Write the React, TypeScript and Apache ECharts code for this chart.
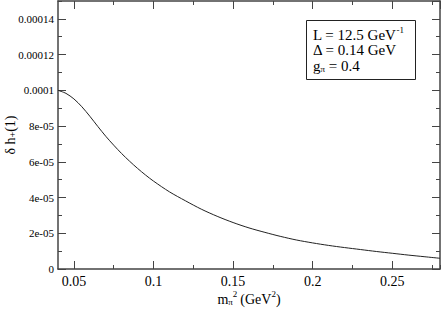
import React, { useEffect, useRef } from "react";
import * as echarts from "echarts";

const xValues = [0.04, 0.045, 0.05, 0.055, 0.06, 0.065, 0.07, 0.075, 0.08, 0.085, 0.09, 0.095, 0.1, 0.11, 0.12, 0.13, 0.14, 0.15, 0.16, 0.17, 0.18, 0.19, 0.2, 0.21, 0.22, 0.23, 0.24, 0.25, 0.26, 0.27, 0.28];
const yValues = [1.0e-4, 9.83e-5, 9.52e-5, 9.08e-5, 8.55e-5, 7.98e-5, 7.43e-5, 6.93e-5, 6.46e-5, 6.03e-5, 5.63e-5, 5.26e-5, 4.92e-5, 4.32e-5, 3.82e-5, 3.35e-5, 2.95e-5, 2.6e-5, 2.3e-5, 2.05e-5, 1.82e-5, 1.62e-5, 1.46e-5, 1.32e-5, 1.2e-5, 1.09e-5, 9.8e-6, 8.8e-6, 7.8e-6, 6.9e-6, 6.0e-6];
const yLabels = ["0", "2e-05", "4e-05", "6e-05", "8e-05", "0.0001", "0.00012", "0.00014"];
const xLabels = ["0.05", "0.1", "0.15", "0.2", "0.25"];
const legendLines = [
  "{t|L = 12.5 GeV}{sup|-1}",
  "{t|Δ = 0.14 GeV}",
  "{t|g}{sub|π}{t| = 0.4}",
];

const X_MIN = 0.04, X_MAX = 0.28, X_STEP = 0.05, X_MINOR0 = 0.075;
const Y_MIN = 0, Y_MAX = 0.00015, Y_STEP = 0.00002, Y_MINOR0 = 0.00001;

const FONT = "Liberation Serif";
const AX = "#444";
const W = 442, H = 310;
const L = 58, R = 2, T = 1, B = 41;

export default function App() {
  const ref = useRef<HTMLDivElement>(null);
  useEffect(() => {
    const chart = echarts.init(ref.current!, null, { renderer: "svg" });
    const pw = W - L - R;
    const ph = H - T - B;
    const pxX = pw / (X_MAX - X_MIN);
    const pxY = ph / (Y_MAX - Y_MIN);

    const gridBase = { right: R, top: T, containLabel: false, outerBoundsMode: "none" };
    const grids = [
      { ...gridBase, left: L, bottom: B },
      { ...gridBase, left: L + (X_STEP * 1 - X_MIN) * pxX, bottom: B },
      { ...gridBase, left: L + (X_MINOR0 - X_MIN) * pxX, bottom: B },
      { ...gridBase, left: L, bottom: B + (Y_MINOR0 - Y_MIN) * pxY },
    ];

    const hiddenX = (g: number) => ({ type: "value", gridIndex: g, show: false, min: X_MIN, max: X_MAX });
    const hiddenY = (g: number) => ({ type: "value", gridIndex: g, show: false, min: 0, max: 1 });

    const lineStyle = { color: AX, width: 1.5 };
    const tickStyle = { color: AX, width: 1 };

    const xTickAxis = (g: number, pos: string, min: number, len: number, labels: boolean) => ({
      type: "value",
      gridIndex: g,
      position: pos,
      min,
      max: X_MAX,
      interval: X_STEP,
      axisLine: { show: false },
      axisTick: { show: true, inside: true, length: len, lineStyle: tickStyle },
      minorTick: { show: false },
      splitLine: { show: false },
      axisLabel: labels
        ? {
            show: true,
            showMaxLabel: false,
            formatter: (v: number) => {
              const i = Math.round(v / X_STEP) - 1;
              return i >= 0 && i < xLabels.length && Math.abs(v - (i + 1) * X_STEP) < 1e-9 ? xLabels[i] : "";
            },
            fontFamily: FONT,
            fontSize: 14,
            color: "#000",
            margin: 5,
          }
        : { show: false },
    });

    const yTickAxis = (g: number, pos: string, min: number, len: number, labels: boolean, line: boolean) => ({
      type: "value",
      gridIndex: g,
      position: pos,
      min,
      max: Y_MAX,
      interval: Y_STEP,
      axisLine: { show: line, onZero: false, lineStyle },
      axisTick: { show: true, inside: true, length: len, lineStyle: tickStyle },
      minorTick: { show: false },
      splitLine: { show: false },
      axisLabel: labels
        ? {
            show: true,
            showMaxLabel: false,
            formatter: (v: number) => {
              const i = Math.round(v / Y_STEP);
              return i < yLabels.length && Math.abs(v - i * Y_STEP) < 1e-12 ? yLabels[i] : "";
            },
            fontFamily: FONT,
            fontSize: 11,
            color: "#000",
            margin: 4,
          }
        : { show: false },
    });

    const xAxes: any[] = [
      {
        type: "value",
        gridIndex: 0,
        position: "bottom",
        min: X_MIN,
        max: X_MAX,
        axisLine: { show: true, onZero: false, lineStyle },
        axisTick: { show: false },
        axisLabel: { show: false },
        splitLine: { show: false },
        name: "{m|m}{sub|π}{sup|2} {m|(GeV}{sup|2}{m|)}",
        nameLocation: "middle",
        nameGap: 20,
        nameMoveOverlap: false,
        nameTextStyle: {
          fontFamily: FONT,
          color: "#000",
          rich: {
            m: { fontFamily: FONT, fontSize: 14, color: "#000", verticalAlign: "bottom" },
            sub: { fontFamily: FONT, fontSize: 9, color: "#000", padding: [6, 0, 0, 0], verticalAlign: "bottom" },
            sup: { fontFamily: FONT, fontSize: 9, color: "#000", padding: [0, 0, 8, 0], verticalAlign: "bottom" },
          },
        },
      },
      {
        type: "value",
        gridIndex: 0,
        position: "top",
        min: X_MIN,
        max: X_MAX,
        axisLine: { show: true, onZero: false, lineStyle },
        axisTick: { show: false },
        axisLabel: { show: false },
        splitLine: { show: false },
      },
      xTickAxis(1, "bottom", X_STEP, 8, true),
      xTickAxis(1, "top", X_STEP, 8, false),
      xTickAxis(2, "bottom", X_MINOR0, 4, false),
      xTickAxis(2, "top", X_MINOR0, 4, false),
      hiddenX(3),
    ];

    const yAxes: any[] = [
      {
        ...yTickAxis(0, "left", Y_MIN, 8, true, true),
        name: "{m|δ h}{sub|+}{m|(1)}",
        nameLocation: "middle",
        nameRotate: 90,
        nameGap: 41,
        nameMoveOverlap: false,
        nameTextStyle: {
          fontFamily: FONT,
          color: "#000",
          rich: {
            m: { fontFamily: FONT, fontSize: 14, color: "#000", verticalAlign: "bottom" },
            sub: { fontFamily: FONT, fontSize: 10, color: "#000", padding: [6, 0, 0, 0], verticalAlign: "bottom" },
          },
        },
      },
      yTickAxis(0, "right", Y_MIN, 8, false, true),
      hiddenY(1),
      hiddenY(2),
      yTickAxis(3, "left", Y_MINOR0, 4, false, false),
      yTickAxis(3, "right", Y_MINOR0, 4, false, false),
    ];

    chart.setOption({
      animation: false,
      backgroundColor: "#fff",
      grid: grids,
      xAxis: xAxes,
      yAxis: yAxes,
      series: [
        {
          type: "line",
          xAxisIndex: 0,
          yAxisIndex: 0,
          data: xValues.map((x, i) => [x, yValues[i]]),
          smooth: 0.3,
          showSymbol: false,
          lineStyle: { color: "#222", width: 1 },
        },
      ],
      graphic: [
        {
          type: "rect",
          shape: { x: 306.5, y: 20.5, width: 109, height: 59 },
          style: { fill: "#fff", stroke: "#222", lineWidth: 1 },
          z: 10,
        },
        ...legendLines.map((txt, i) => ({
          type: "text",
          x: 313,
          y: 34 + i * 16,
          z: 11,
          style: {
            text: txt,
            fontFamily: FONT,
            fill: "#000",
            verticalAlign: "middle",
            rich: {
              t: { fontFamily: FONT, fontSize: 15, fill: "#000", verticalAlign: "bottom" },
              sup: { fontFamily: FONT, fontSize: 9, fill: "#000", padding: [0, 0, 8, 0], verticalAlign: "bottom" },
              sub: { fontFamily: FONT, fontSize: 9, fill: "#000", padding: [5, 0, 0, 0], verticalAlign: "bottom" },
            },
          },
        })),
      ],
    });
    return () => chart.dispose();
  }, []);
  return <div ref={ref} style={{ width: W, height: H, position: "absolute", left: 0, top: 0 }} />;
}
